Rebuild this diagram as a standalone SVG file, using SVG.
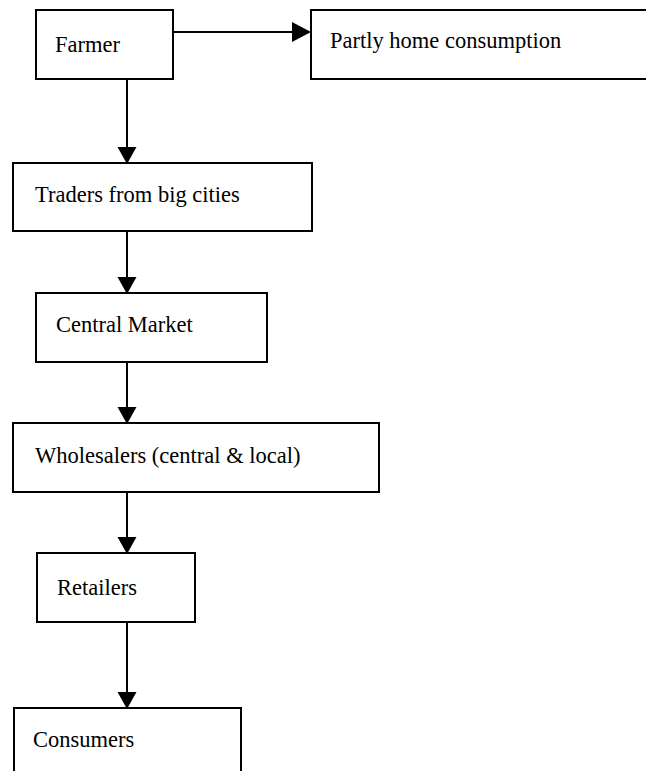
<svg xmlns="http://www.w3.org/2000/svg" width="646" height="771" viewBox="0 0 646 771">
<style>
.box{fill:#fff;stroke:#000;stroke-width:2}
.lbl{font-family:"Liberation Serif","Times New Roman",serif;font-size:22.5px;fill:#000}
.ln{stroke:#000;stroke-width:2;fill:none}
.ah{fill:#000}
</style>
<rect width="646" height="771" fill="#fff"/>
<g id="connectors">
<line class="ln" x1="173" y1="32" x2="293" y2="32"/>
<polygon class="ah" points="292,22 311,32 292,42"/>
<line class="ln" x1="127" y1="79" x2="127" y2="148"/>
<polygon class="ah" points="117.5,147 136.5,147 127,164"/>
<line class="ln" x1="127" y1="231" x2="127" y2="278"/>
<polygon class="ah" points="117.5,277 136.5,277 127,294"/>
<line class="ln" x1="127" y1="362" x2="127" y2="408"/>
<polygon class="ah" points="117.5,407 136.5,407 127,424"/>
<line class="ln" x1="127" y1="492" x2="127" y2="538"/>
<polygon class="ah" points="117.5,537 136.5,537 127,554"/>
<line class="ln" x1="127" y1="622" x2="127" y2="693"/>
<polygon class="ah" points="117.5,692 136.5,692 127,709"/>
</g>
<g id="farmer">
<rect class="box" x="36" y="10" width="137" height="69"/>
<text class="lbl" x="55" y="52">Farmer</text>
</g>
<g id="home">
<rect class="box" x="311" y="10" width="345" height="69"/>
<text class="lbl" x="330" y="48">Partly home consumption</text>
</g>
<g id="traders">
<rect class="box" x="13" y="163" width="299" height="68"/>
<text class="lbl" x="35" y="202">Traders from big cities</text>
</g>
<g id="central">
<rect class="box" x="36" y="293" width="231" height="69"/>
<text class="lbl" x="56" y="332">Central Market</text>
</g>
<g id="wholesalers">
<rect class="box" x="13" y="423" width="366" height="69"/>
<text class="lbl" x="35" y="463">Wholesalers (central &amp; local)</text>
</g>
<g id="retailers">
<rect class="box" x="37" y="553" width="158" height="69"/>
<text class="lbl" x="57" y="595">Retailers</text>
</g>
<g id="consumers">
<rect class="box" x="14" y="708" width="227" height="80"/>
<text class="lbl" x="33" y="747">Consumers</text>
</g>
</svg>
